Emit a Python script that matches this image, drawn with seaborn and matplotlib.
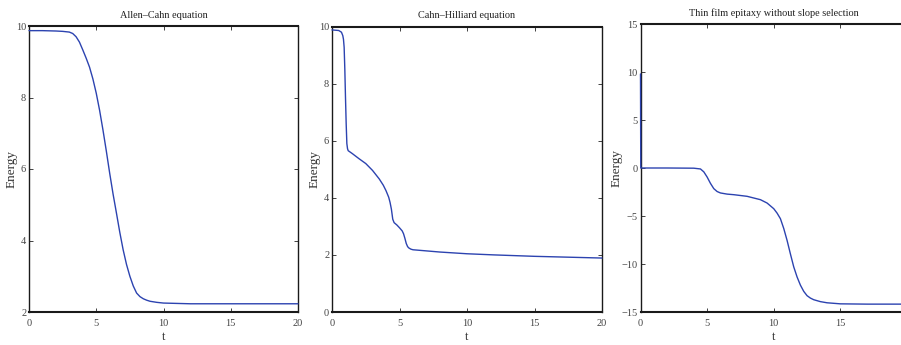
import matplotlib
matplotlib.use("Agg")
import matplotlib.pyplot as plt
import seaborn as sns
import pandas as pd

sns.set_theme(style="ticks")
plt.rcParams['font.family'] = ['Liberation Serif', 'DejaVu Serif']

# Allen-Cahn
t_ac = [0, 1, 2, 2.5, 3, 3.25, 3.5, 3.75, 4, 4.25, 4.5, 4.75, 5, 5.25, 5.5, 5.75, 6, 6.25, 6.5, 6.75,
        7, 7.25, 7.5, 7.75, 8, 8.25, 8.5, 8.75, 9, 9.5, 10, 12, 15, 20]
e_ac = [9.87, 9.87, 9.86, 9.85, 9.83, 9.79, 9.70, 9.55, 9.33, 9.10, 8.85, 8.52, 8.12, 7.64, 7.09, 6.50,
        5.88, 5.30, 4.77, 4.23, 3.74, 3.33, 3.00, 2.73, 2.53, 2.43, 2.37, 2.33, 2.30, 2.27, 2.25, 2.23, 2.23, 2.23]

# Cahn-Hilliard
t_ch = [0, 0.5, 0.7, 0.8, 0.85, 0.9, 0.95, 1.0, 1.05, 1.1, 1.15, 1.2, 1.5, 2, 2.5, 3, 3.5, 3.8, 4, 4.2,
        4.3, 4.4, 4.5, 4.6, 4.8, 5, 5.2, 5.3, 5.4, 5.5, 5.6, 5.7, 5.85, 6, 7, 8, 10, 12, 15, 20]
e_ch = [9.88, 9.86, 9.80, 9.68, 9.55, 9.27, 8.5, 7.5, 6.6, 5.9, 5.72, 5.65, 5.55, 5.37, 5.20, 4.96, 4.66,
        4.44, 4.25, 4.02, 3.84, 3.60, 3.25, 3.13, 3.05, 2.95, 2.84, 2.74, 2.58, 2.40, 2.29, 2.24, 2.20, 2.18,
        2.14, 2.10, 2.04, 2.00, 1.95, 1.89]

# Thin film epitaxy
t_tf = [0, 0.02, 2, 4, 4.5, 4.75, 5, 5.25, 5.5, 5.75, 6, 6.5, 7, 8, 9, 9.5, 10, 10.25, 10.5, 10.75, 11,
        11.25, 11.5, 11.75, 12, 12.25, 12.5, 12.75, 13, 13.5, 14, 15, 17, 20]
e_tf = [9.8, 0.0, 0.0, -0.02, -0.10, -0.40, -0.94, -1.60, -2.15, -2.45, -2.60, -2.72, -2.78, -2.95, -3.30,
        -3.65, -4.24, -4.70, -5.28, -6.30, -7.54, -8.95, -10.30, -11.35, -12.20, -12.85, -13.30, -13.55,
        -13.72, -13.92, -14.04, -14.15, -14.18, -14.18]

titles = ["Allen\u2013Cahn equation", "Cahn\u2013Hilliard equation", "Thin film epitaxy without slope selection"]
ylims = [(2, 10), (0, 10), (-15, 15)]
yticks = [[2, 4, 6, 8, 10], [0, 2, 4, 6, 8, 10], [-15, -10, -5, 0, 5, 10, 15]]
xticks = [[0, 5, 10, 15, 20], [0, 5, 10, 15, 20], [0, 5, 10, 15]]
series = [(t_ac, e_ac), (t_ch, e_ch), (t_tf, e_tf)]

W, H = 901, 345
fig = plt.figure(figsize=(W / 100, H / 100), dpi=100)
boxes = [(29, 26, 298, 312), (332, 26.5, 602, 312), (640.5, 24, 907, 312)]
color = "#2c43b0"

for i, ((x0, y0, x1, y1), (t, e)) in enumerate(zip(boxes, series)):
    ax = fig.add_axes([x0 / W, 1 - y1 / H, (x1 - x0) / W, (y1 - y0) / H])
    df = pd.DataFrame({"t": t, "Energy": e})
    sns.lineplot(data=df, x="t", y="Energy", ax=ax, color=color, linewidth=1.0,
                 estimator=None, zorder=3, clip_on=False)
    ax.set_xlim(0, 20)
    ax.set_ylim(*ylims[i])
    ax.set_xticks(xticks[i])
    ax.set_yticks(yticks[i])
    ax.tick_params(direction="in", top=True, right=True, length=3, width=0.6,
                   labelsize=7.5, colors="#222222", labelcolor="#444444")
    ax.tick_params(axis="x", pad=5)
    ax.tick_params(axis="y", pad=2)
    for name, s in ax.spines.items():
        s.set_color("#1a1a1a")
        s.set_linewidth(1.5 if name in ("top", "bottom") else 1.0)
    ax.set_title(titles[i], fontsize=7.4, pad=6, color="#222222")
    ax.set_xlabel("t", fontsize=9, labelpad=2.5, color="#333333")
    ax.set_ylabel("Energy", fontsize=9.5, labelpad=-1, color="#333333")

fig.savefig("out.png", dpi=100)
